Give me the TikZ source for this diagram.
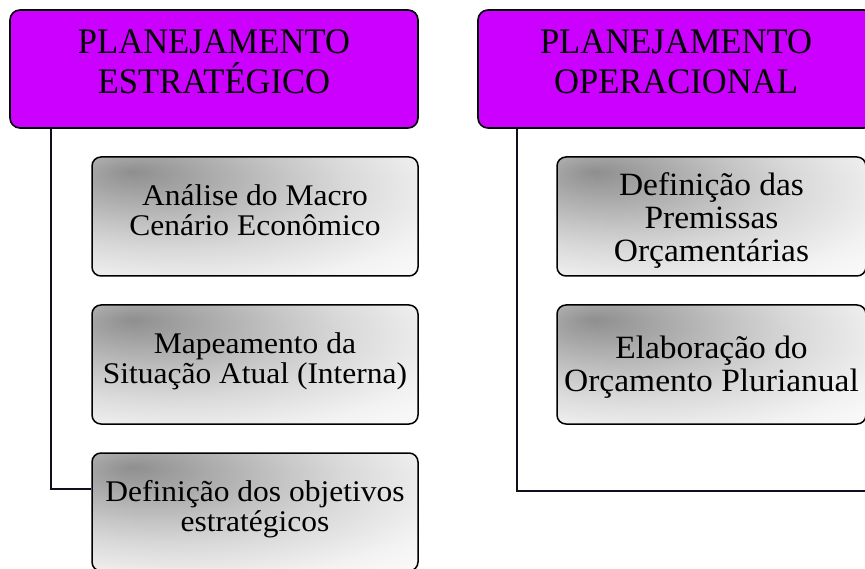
\documentclass[tikz,border=0pt]{standalone}
\usepackage{fontspec}
\setmainfont{Liberation Serif}
\newfontfamily\hdrfont[FakeStretch=0.96]{Liberation Serif}
\newfontfamily\lboxfont[FakeStretch=1.05]{Liberation Serif}
\newfontfamily\rboxfont[FakeStretch=1.03]{Liberation Serif}
\definecolor{hdrmag}{RGB}{204,0,255}
\definecolor{linecol}{RGB}{15,15,30}
\newcommand{\tstrut}[1]{\rule{0pt}{#1}}
\newcommand{\bstrut}[1]{\rule[-#1]{0pt}{#1}}
\pgfdeclareradialshading{tlshade}{\pgfpoint{-19bp}{19bp}}{%
  color(0bp)=(black!44); color(10bp)=(black!33); color(20bp)=(black!22);
  color(27bp)=(black!15); color(40bp)=(black!5); color(52bp)=(white);
  color(90bp)=(white)}
\begin{document}
\begin{tikzpicture}[x=1pt,y=-1pt,
  hdr/.style={draw=black, line width=1.6pt, rounded corners=10pt, fill=hdrmag,
    align=center, inner sep=0pt, minimum height=118pt,
    font=\hdrfont\fontsize{36}{40}\selectfont},
  child/.style={draw=black, line width=1.5pt, rounded corners=9pt,
    shading=tlshade, align=center, inner sep=0pt, minimum height=119pt},
  lfont/.style={font=\lboxfont\fontsize{30}{30}\selectfont},
  rfont/.style={font=\rboxfont\fontsize{32.5}{33}\selectfont},
  conn/.style={draw=linecol, line width=2pt}]
\useasboundingbox (0,0) rectangle (865,569);
\clip (0,0) rectangle (865,569);

% connector junction points
\coordinate (lj) at (51,489);
\coordinate (rj) at (517,491);
\coordinate (rend) at (872,491);

% header nodes
\node[hdr, minimum width=408pt] (hdr1) at (214,69)
  {\tstrut{35pt}PLANEJAMENTO\\ESTRATÉGICO\bstrut{26pt}};
\node[hdr, minimum width=396pt] (hdr2) at (676,69)
  {\tstrut{35pt}PLANEJAMENTO\\OPERACIONAL\bstrut{26pt}};

% left children
\node[child, lfont, minimum width=326pt] (b1) at (255,216.5)
  {\tstrut{29pt}Análise do Macro\\Cenário Econômico\bstrut{21pt}};
\node[child, lfont, minimum width=326pt] (b2) at (255,364.5)
  {\tstrut{29pt}Mapeamento da\\Situação Atual (Interna)\bstrut{21pt}};
\node[child, lfont, minimum width=326pt, minimum height=118pt] (b3) at (255,512)
  {\tstrut{29pt}Definição dos objetivos\\estratégicos\bstrut{21pt}};

% right children
\node[child, rfont, minimum width=309pt] (r1) at (711.5,216.5)
  {\tstrut{31pt}Definição das\\Premissas\\Orçamentárias\bstrut{3.5pt}};
\node[child, rfont, minimum width=309pt] (r2) at (711.5,364.5)
  {\tstrut{31pt}Elaboração do\\Orçamento Plurianual\bstrut{9.5pt}};

% connectors
\draw[conn] (hdr1.south -| lj) -- (lj) -- (b3.west |- lj);
\draw[conn] (hdr2.south -| rj) -- (rj) -- (rend);
\end{tikzpicture}
\end{document}
